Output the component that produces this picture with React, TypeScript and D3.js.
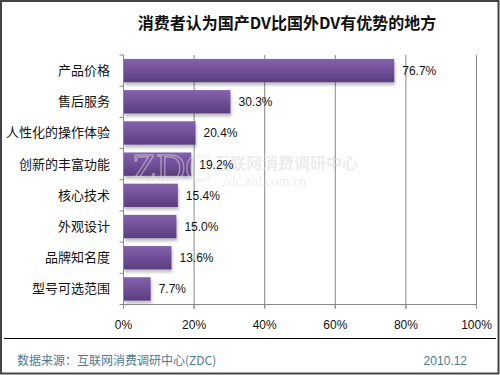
import * as d3 from "d3";

const title = "消费者认为国产DV比国外DV有优势的地方";
const categories = [
  "产品价格",
  "售后服务",
  "人性化的操作体验",
  "创新的丰富功能",
  "核心技术",
  "外观设计",
  "品牌知名度",
  "型号可选范围",
];
const values = [76.7, 30.3, 20.4, 19.2, 15.4, 15.0, 13.6, 7.7];
const xTicks = [0, 20, 40, 60, 80, 100];
const source = "数据来源：互联网消费调研中心(ZDC)";
const dateLabel = "2010.12";

const W = 500;
const H = 375;
const cjk = "'Noto Sans CJK SC', 'Liberation Sans', sans-serif";
const latin = "'Liberation Sans', Arial, sans-serif";

export default function App() {
  const x = d3.scaleLinear().domain([0, 100]).range([123.5, 476.5]);
  const y = d3
    .scaleBand<string>()
    .domain(categories)
    .range([55, 304.5])
    .paddingInner(0.25)
    .paddingOuter(0.125);
  const step = y.step();
  const [top, bottom] = y.range();

  return (
    <svg
      width={W}
      height={H}
      style={{ position: "absolute", left: 0, top: 0, display: "block" }}
    >
      <defs>
        <linearGradient id="barFill" x1="0" y1="0" x2="0" y2="1">
          <stop offset="0%" stopColor="#8462ad" />
          <stop offset="100%" stopColor="#5a3d80" />
        </linearGradient>
        <filter id="shadow" x="-5%" y="-20%" width="115%" height="160%">
          <feGaussianBlur in="SourceAlpha" stdDeviation="1.5" />
          <feOffset dx="1" dy="2.5" result="b" />
          <feComponentTransfer>
            <feFuncA type="linear" slope="0.25" />
          </feComponentTransfer>
          <feMerge>
            <feMergeNode />
            <feMergeNode in="SourceGraphic" />
          </feMerge>
        </filter>
      </defs>
      <rect x={0} y={0} width={W} height={H} fill="#fff" />

      <text
        x={287}
        y={29}
        textAnchor="middle"
        fontFamily={cjk}
        fontSize={16}
        fontWeight="bold"
        fill="#111"
      >
        {title}
      </text>

      {/* gridlines */}
      {xTicks.slice(1).map((t) => (
        <line
          key={t}
          x1={x(t)}
          x2={x(t)}
          y1={top}
          y2={bottom + 4}
          stroke="#888"
          strokeWidth={1}
        />
      ))}

      {/* bars */}
      {categories.map((c, i) => (
        <rect
          key={c}
          x={x(0)}
          y={y(c)}
          width={x(values[i]) - x(0)}
          height={y.bandwidth()}
          fill="url(#barFill)"
          filter="url(#shadow)"
        />
      ))}

      {/* watermark, drawn over the bars */}
      <g opacity={0.45}>
        <text
          x={132}
          y={181}
          fontFamily="'Liberation Serif', serif"
          fontSize={40}
          fill="none"
          stroke="#e6e6e6"
          strokeWidth={1.4}
        >
          ZDC
        </text>
        <text x={214} y={169} fontFamily={cjk} fontSize={16} fontWeight="bold" fill="#d6d6d6">
          互联网消费调研中心
        </text>
        <text x={222} y={186} fontFamily="'Liberation Serif', serif" fontSize={14} fill="#d6d6d6">
          zdc.zol.com.cn
        </text>
      </g>

      {/* axes */}
      <line x1={x(0)} x2={x(0)} y1={top} y2={bottom + 4} stroke="#888" />
      <line x1={x(0)} x2={x(100)} y1={bottom} y2={bottom} stroke="#888" />
      {d3.range(categories.length + 1).map((i) => (
        <line
          key={i}
          x1={x(0) - 4}
          x2={x(0)}
          y1={top + i * step}
          y2={top + i * step}
          stroke="#888"
        />
      ))}
      {xTicks.map((t) => (
        <g key={t}>
          <line x1={x(t)} x2={x(t)} y1={bottom} y2={bottom + 4} stroke="#888" />
          <text
            x={x(t)}
            y={329}
            textAnchor="middle"
            fontFamily={latin}
            fontSize={12}
            fill="#111"
          >
            {t}%
          </text>
        </g>
      ))}

      {/* category labels */}
      {categories.map((c) => (
        <text
          key={c}
          x={110}
          y={(y(c) ?? 0) + y.bandwidth() / 2 + 4.5}
          textAnchor="end"
          fontFamily={cjk}
          fontSize={13}
          fill="#111"
        >
          {c}
        </text>
      ))}

      {/* value labels */}
      {categories.map((c, i) => (
        <text
          key={c}
          x={x(values[i]) + 8}
          y={(y(c) ?? 0) + y.bandwidth() / 2 + 4.5}
          fontFamily={latin}
          fontSize={12}
          fill="#111"
        >
          {values[i].toFixed(1)}%
        </text>
      ))}

      {/* footer */}
      <line x1={4} x2={496} y1={338.5} y2={338.5} stroke="#000" strokeWidth={1} />
      <text x={17} y={365} fontFamily={cjk} fontSize={12} fill="#4d7a91">
        {source}
      </text>
      <text x={467} y={365} textAnchor="end" fontFamily={latin} fontSize={12} fill="#4d7a91">
        {dateLabel}
      </text>

      <rect x={1} y={1} width={W - 2.5} height={H - 2.5} fill="none" stroke="#444" strokeWidth={2} />
    </svg>
  );
}
